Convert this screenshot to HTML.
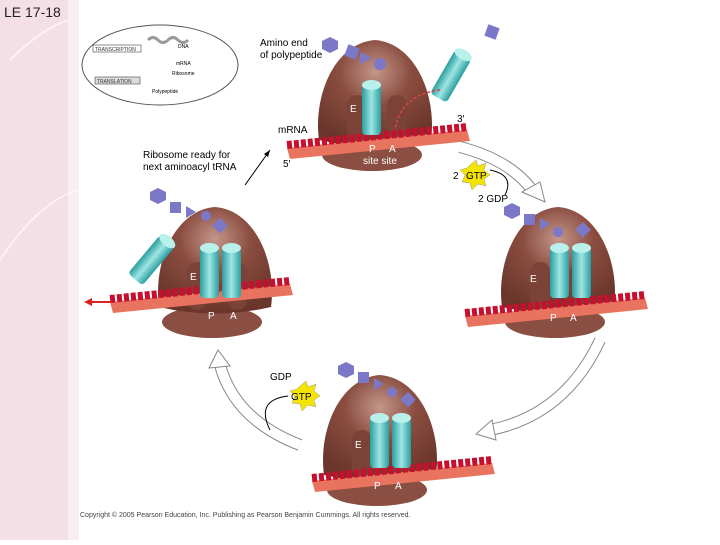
<!DOCTYPE html>
<html><head><meta charset="utf-8"><style>
body{margin:0;width:720px;height:540px;overflow:hidden;background:#fff;font-family:"Liberation Sans",sans-serif}
</style></head><body>
<svg width="720" height="540" viewBox="0 0 720 540" xmlns="http://www.w3.org/2000/svg" font-family="Liberation Sans, sans-serif">
<defs>
<radialGradient id="br" cx="0.5" cy="0.3" r="0.7">
<stop offset="0" stop-color="#c4968a"/><stop offset="0.45" stop-color="#8a4d40"/><stop offset="1" stop-color="#6a352b"/></radialGradient>
<linearGradient id="tq" x1="0" x2="1"><stop offset="0" stop-color="#2a9ea0"/><stop offset="0.5" stop-color="#9ee6e2"/><stop offset="1" stop-color="#2a9ea0"/></linearGradient>
<g id="rib">
<ellipse cx="-3" cy="60" rx="50" ry="16" fill="#8a4f42"/>
<path d="M-56 45 C-62 0 -40 -52 0 -55 C40 -52 62 0 56 45 Q0 58 -56 45 Z" fill="url(#br)"/>
<rect x="-28" y="0" width="20" height="48" rx="10" fill="#7b4337"/>
<rect x="12" y="0" width="20" height="48" rx="10" fill="#7b4337"/>
</g>
<g id="trna">
<rect x="0" y="0" width="19" height="50" rx="4" fill="url(#tq)"/>
<ellipse cx="9.5" cy="0" rx="9.5" ry="5" fill="#b8f0ec"/>
</g>
<g id="mrna">
<path d="M0 0 L180 -18 L183 -7 L3 11 Z" fill="#e8735e"/>
<path d="M0 -3 L180 -21" stroke="#c8102e" stroke-width="8" stroke-dasharray="5 2"/>
</g>
</defs>
<rect x="0" y="0" width="68" height="540" fill="#f4dfe7"/>
<rect x="68" y="0" width="11" height="540" fill="#f9eef2"/>
<path d="M10 60 Q40 30 68 20" stroke="#fff" stroke-width="1.5" fill="none" opacity="0.7"/>
<path d="M0 260 Q40 200 79 190" stroke="#fff" stroke-width="1.5" fill="none" opacity="0.7"/>
<text x="4" y="17" font-size="14" fill="#222">LE 17-18</text>
<ellipse cx="160" cy="65" rx="78" ry="40" fill="#fff" stroke="#555" stroke-width="1"/>
<rect x="93" y="45" width="48" height="7" fill="#fff" stroke="#444" stroke-width="0.6"/>
<text x="95" y="51" font-size="5" fill="#333">TRANSCRIPTION</text>
<rect x="95" y="77" width="45" height="7" fill="#ddd" stroke="#444" stroke-width="0.6"/>
<text x="97" y="83" font-size="5" fill="#333">TRANSLATION</text>
<path d="M148 40 q5 -5 10 0 t10 0 t10 0 t10 0" stroke="#999" stroke-width="3" fill="none"/>
<text x="178" y="48" font-size="5">DNA</text><text x="176" y="65" font-size="5">mRNA</text>
<text x="172" y="75" font-size="5">Ribosome</text><text x="152" y="93" font-size="5">Polypeptide</text>
<use href="#rib" x="375" y="95"/>
<use href="#mrna" x="287" y="148"/>
<use href="#trna" x="362" y="85"/>
<g transform="translate(455,50) rotate(30)"><use href="#trna"/></g>
<polygon points="330,37 338,41 338,49 330,53 322,49 322,41" fill="#7b78c8"/>
<rect x="346" y="46" width="12" height="12" fill="#7b78c8" transform="rotate(20 352 52)"/>
<polygon points="360,52 372,58 360,64" fill="#7b78c8"/><circle cx="380" cy="64" r="6" fill="#7b78c8"/>
<rect x="486" y="26" width="12" height="12" fill="#7b78c8" transform="rotate(20 492 32)"/>
<path d="M440 90 Q400 95 395 130" stroke="#d44" stroke-width="1.5" stroke-dasharray="3 2" fill="none"/>
<text x="260" y="46" font-size="10">Amino end</text><text x="260" y="58" font-size="10">of polypeptide</text>
<text x="350" y="112" font-size="10" fill="#fff">E</text>
<text x="278" y="133" font-size="10">mRNA</text>
<text x="457" y="122" font-size="10">3′</text><text x="283" y="167" font-size="10">5′</text>
<text x="369" y="152" font-size="10" fill="#fff">P</text><text x="389" y="152" font-size="10" fill="#fff">A</text>
<text x="363" y="164" font-size="10" fill="#fff">site site</text>
<text x="143" y="158" font-size="10">Ribosome ready for</text><text x="143" y="170" font-size="10">next aminoacyl tRNA</text>
<path d="M245 185 L270 150" stroke="#000" stroke-width="1"/><polygon points="270,150 264,154 268,157" fill="#000"/>
<polygon points="470,165 476,160 478,166 486,163 484,170 490,175 484,179 486,186 478,184 472,190 470,183 462,182 465,175 460,170 467,168" fill="#f5e300" stroke="#999" stroke-width="0.5"/>
<text x="466" y="179" font-size="10">GTP</text><text x="453" y="179" font-size="10">2</text>
<path d="M490 170 Q515 175 505 195" stroke="#000" fill="none"/>
<text x="478" y="202" font-size="10">2 GDP</text>
<path d="M460 147 Q510 160 532 190" stroke="#888" stroke-width="12" fill="none"/>
<path d="M460 147 Q510 160 532 190" stroke="#fff" stroke-width="10" fill="none"/>
<polygon points="522,192 545,202 540,182" fill="#fff" stroke="#888"/>
<path d="M600 340 Q565 415 490 430" stroke="#888" stroke-width="12" fill="none"/>
<path d="M600 340 Q565 415 490 430" stroke="#fff" stroke-width="10" fill="none"/>
<polygon points="492,420 476,434 496,440" fill="#fff" stroke="#888"/>
<path d="M300 445 Q235 420 220 365" stroke="#888" stroke-width="12" fill="none"/>
<path d="M300 445 Q235 420 220 365" stroke="#fff" stroke-width="10" fill="none"/>
<polygon points="209,368 218,350 230,366" fill="#fff" stroke="#888"/>
<use href="#rib" x="215" y="262"/>
<use href="#mrna" x="110" y="302"/>
<path d="M112 302 L92 302" stroke="#d22" stroke-width="2"/><polygon points="92,298 84,302 92,306" fill="#d22"/>
<use href="#trna" x="200" y="248"/><use href="#trna" x="222" y="248"/>
<g transform="translate(160,235) rotate(40)"><use href="#trna"/></g>
<polygon points="158,188 166,192 166,200 158,204 150,200 150,192" fill="#7b78c8"/>
<rect x="170" y="202" width="11" height="11" fill="#7b78c8"/><polygon points="186,206 196,212 186,218" fill="#7b78c8"/>
<circle cx="206" cy="216" r="5" fill="#7b78c8"/><rect x="215" y="220" width="11" height="11" fill="#7b78c8" transform="rotate(45 220 225)"/>
<text x="190" y="280" font-size="10" fill="#fff">E</text>
<text x="208" y="319" font-size="10" fill="#fff">P</text><text x="230" y="319" font-size="10" fill="#fff">A</text>
<use href="#rib" x="558" y="262"/>
<use href="#mrna" x="465" y="316"/>
<use href="#trna" x="550" y="248"/><use href="#trna" x="572" y="248"/>
<polygon points="512,203 520,207 520,215 512,219 504,215 504,207" fill="#7b78c8"/>
<rect x="524" y="214" width="11" height="11" fill="#7b78c8"/><polygon points="540,218 550,224 540,230" fill="#7b78c8"/>
<circle cx="558" cy="232" r="5" fill="#7b78c8"/><rect x="578" y="224" width="11" height="11" fill="#7b78c8" transform="rotate(45 583 229)"/>
<text x="530" y="282" font-size="10" fill="#fff">E</text>
<text x="550" y="321" font-size="10" fill="#fff">P</text><text x="570" y="321" font-size="10" fill="#fff">A</text>
<use href="#rib" x="380" y="430"/>
<use href="#mrna" x="312" y="481"/>
<use href="#trna" x="370" y="418"/><use href="#trna" x="392" y="418"/>
<polygon points="346,362 354,366 354,374 346,378 338,374 338,366" fill="#7b78c8"/>
<rect x="358" y="372" width="11" height="11" fill="#7b78c8"/><polygon points="374,378 384,384 374,390" fill="#7b78c8"/>
<circle cx="392" cy="392" r="5" fill="#7b78c8"/><rect x="403" y="394" width="11" height="11" fill="#7b78c8" transform="rotate(45 408 399)"/>
<text x="355" y="448" font-size="10" fill="#fff">E</text>
<text x="374" y="489" font-size="10" fill="#fff">P</text><text x="395" y="489" font-size="10" fill="#fff">A</text>
<text x="270" y="380" font-size="10">GDP</text>
<polygon points="300,386 306,381 308,387 316,384 314,391 320,396 314,400 316,407 308,405 302,411 300,404 292,403 295,396 290,391 297,389" fill="#f5e300" stroke="#999" stroke-width="0.5"/>
<text x="291" y="400" font-size="10">GTP</text>
<path d="M288 396 Q255 400 270 430" stroke="#000" fill="none"/>
<text x="80" y="517" font-size="7" fill="#444">Copyright © 2005 Pearson Education, Inc. Publishing as Pearson Benjamin Cummings. All rights reserved.</text>
</svg>
</body></html>
